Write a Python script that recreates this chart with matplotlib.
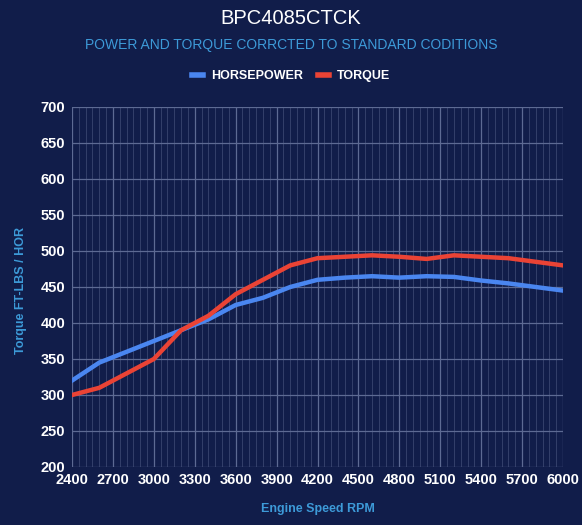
import numpy as np
import matplotlib.pyplot as plt
from matplotlib.lines import Line2D

rpm = [2400, 2600, 2800, 3000, 3200, 3400, 3600, 3800, 4000, 4200,
       4400, 4600, 4800, 5000, 5200, 5400, 5600, 5800, 6000]
horsepower = [320, 345, 360, 375, 390, 405, 425, 435, 450, 460,
              463, 465, 463, 465, 464, 459, 455, 450, 445]
torque = [300, 310, 330, 350, 390, 410, 440, 460, 480, 490,
          492, 494, 492, 489, 494, 492, 490, 485, 480]

bg = '#111d4a'
grid_col = '#5d6a93'
blue = '#4a86f0'
red = '#ea4335'
label_blue = '#3d9ad8'

plt.rcParams['font.family'] = ['Liberation Sans', 'DejaVu Sans']

fig = plt.figure(figsize=(5.82, 5.25), dpi=100, facecolor=bg)
ax = fig.add_axes([72 / 582, 1 - 467 / 525, (563 - 72) / 582, (467 - 107) / 525])
ax.set_facecolor(bg)

ax.plot(rpm, horsepower, color=blue, lw=3.2, solid_joinstyle='round', zorder=3)
ax.plot(rpm, torque, color=red, lw=3.2, solid_joinstyle='round', zorder=3)

ax.set_xlim(2400, 6000)
ax.set_ylim(200, 700)
ax.set_xticks(np.arange(2400, 6001, 300))
ax.set_xticks(np.arange(2400, 6001, 50), minor=True)
ax.set_yticks(np.arange(200, 701, 50))

ax.grid(which='major', axis='both', color=grid_col, lw=0.9, zorder=1)
ax.grid(which='minor', axis='x', color='#34406b', lw=0.7, zorder=1)
ax.tick_params(which='both', length=0)
ax.tick_params(axis='x', colors='white', labelsize=10.5, pad=4)
ax.tick_params(axis='y', colors='white', labelsize=10.5, pad=5)
for lbl in ax.get_xticklabels() + ax.get_yticklabels():
    lbl.set_fontweight('bold')
for s in ax.spines.values():
    s.set_visible(False)

fig.text(0.5, 1 - 18 / 525, 'BPC4085CTCK', color='white', fontsize=14.5,
         ha='center', va='center')
fig.text(0.5, 1 - 45 / 525, 'POWER AND TORQUE CORRCTED TO STANDARD CODITIONS',
         color=label_blue, fontsize=10, ha='center', va='center')
fig.text(318 / 582, 1 - 509 / 525, 'Engine Speed RPM', color=label_blue,
         fontsize=9, fontweight='bold', ha='center', va='center')
fig.text(21 / 582, 1 - 290 / 525, 'Torque FT-LBS / HOR', color=label_blue,
         fontsize=9, fontweight='bold', ha='center', va='center', rotation=90)

handles = [Line2D([], [], color=blue, lw=4), Line2D([], [], color=red, lw=4)]
leg = fig.legend(handles, ['HORSEPOWER', 'TORQUE'], loc='center',
                 bbox_to_anchor=(0.5, 1 - 76 / 525), ncol=2, frameon=False,
                 handlelength=0.9, handletextpad=0.6, columnspacing=1.2,
                 prop={'weight': 'bold', 'size': 9})
for t in leg.get_texts():
    t.set_color('white')

fig.savefig('out.png', dpi=100, facecolor=bg)
